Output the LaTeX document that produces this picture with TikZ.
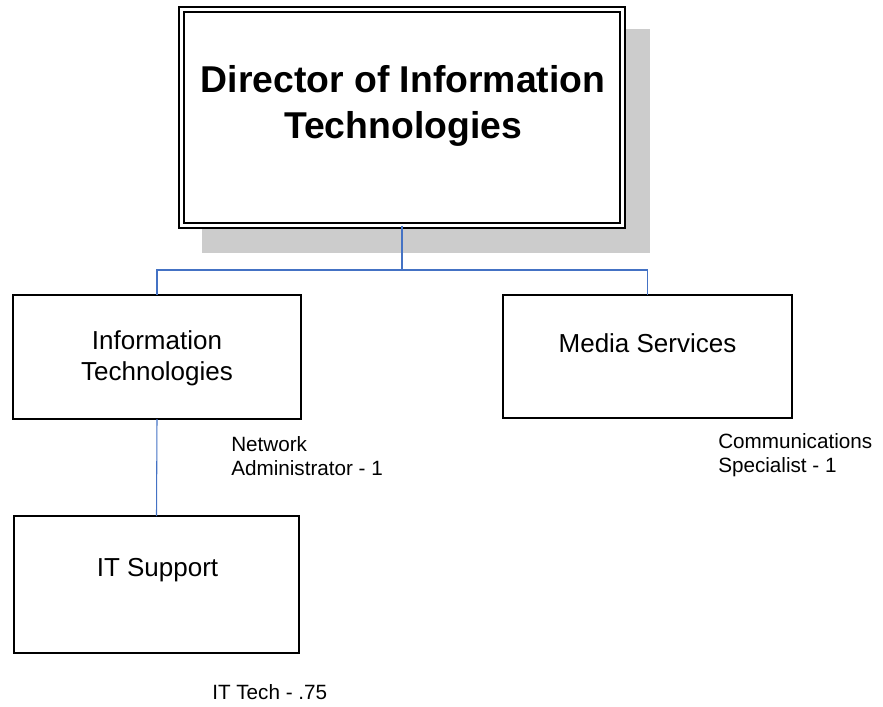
\documentclass[tikz,border=0pt]{standalone}
\usepackage{fontspec}
\setmainfont{Liberation Sans}
\usepackage{tikz}
\definecolor{orgblue}{HTML}{4472C4}
\definecolor{shadowgray}{HTML}{CCCCCC}

\begin{document}
\begin{tikzpicture}[x=0.75pt, y=-0.75pt,
    unitbox/.style={draw, line width=1pt, fill=white, inner sep=0pt, outer sep=0pt},
    dirbox/.style={draw, line width=1.1pt, double, double distance=2.4pt, fill=white,
                   inner sep=0pt, outer sep=0pt, minimum width=330.75pt, minimum height=162pt},
    titletext/.style={align=center, font=\fontsize{28pt}{34pt}\selectfont\bfseries},
    unittext/.style={align=center, font=\fontsize{19.5pt}{23pt}\selectfont},
    stafftext/.style={align=left, anchor=west, inner sep=0pt, font=\fontsize{15.5pt}{18pt}\selectfont},
    orgline/.style={draw=orgblue, line width=0.8pt}]
    \useasboundingbox (0, 0) rectangle (883, 707);
    % Director
    \fill [shadowgray]  (202, 29) rectangle (650, 253);
    \node [dirbox]      (director) at (402, 117.5) {};
    \node [titletext]   (directorname) at (403, 106) {Director of Information\\Technologies};
    % Information Technologies
    \node [unitbox, minimum width=216pt, minimum height=93pt] (infotech) at (157, 357) {};
    \node [unittext]    (infotechname) at (157, 358) {Information\\Technologies};
    \node [stafftext]   (netadmin) at (231, 456) {Network\\Administrator - 1};
    % Media Services
    \node [unitbox, minimum width=216.75pt, minimum height=92.25pt] (media) at (647.5, 356.5) {};
    \node [unittext]    (medianame) at (647.5, 343) {Media Services};
    \node [stafftext]   (commspec) at (718, 455) {Communications\\Specialist - 1};
    % IT Support
    \node [unitbox, minimum width=213.75pt, minimum height=102.75pt] (itsupport) at (156.5, 584.5) {};
    \node [unittext]    (itsupportname) at (157.5, 570) {IT Support};
    \node [stafftext]   (ittech) at (212, 692) {IT Tech - .75};
    % connectors
    \coordinate (branch) at (402, 270);
    \draw [orgline]     (director.south) -- (branch);
    \draw [orgline]     (infotech.north) |- (branch) -| (media.north);
    \draw [orgline]     (infotech.south) -- (itsupport.north);
\end{tikzpicture}
\end{document}
